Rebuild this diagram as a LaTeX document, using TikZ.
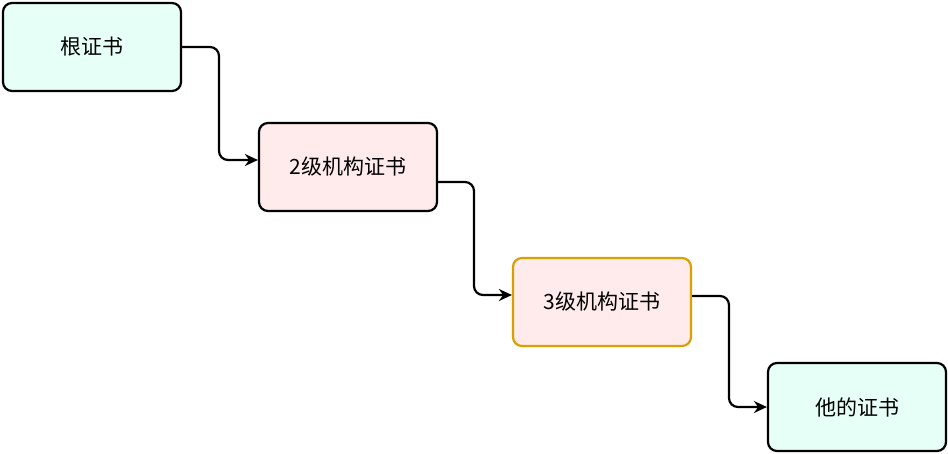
\documentclass[tikz,border=0pt]{standalone}
\usepackage{fontspec}
\newfontfamily\cjk{Noto Sans CJK SC}
\usetikzlibrary{arrows.meta}
\definecolor{teal}{HTML}{E6FFF7}
\definecolor{pink}{HTML}{FFEBEB}
\definecolor{org}{HTML}{D9A000}
\tikzset{box/.style={draw=black,line width=2.2pt,rounded corners=9pt,minimum width=178pt,minimum height=88pt,font=\cjk\fontsize{21}{24}\selectfont,inner sep=0pt},
conn/.style={line width=2.2pt,rounded corners=9pt,-{Stealth[length=13pt,width=12pt]}}}
\begin{document}
\begin{tikzpicture}[x=1pt,y=-1pt]
\useasboundingbox (0,0) rectangle (948,453);
\node[box,fill=teal] (a) at (92,47) {根证书};
\node[box,fill=pink] (b) at (348,167) {2级机构证书};
\node[box,fill=pink,draw=org] (c) at (602,302) {3级机构证书};
\node[box,fill=teal] (d) at (857,407) {他的证书};
\draw[conn] (a.east) -- (219,47) -- (219,160) -- (b.west|-0,160);
\draw[conn] (b.east|-0,182) -- (474,182) -- (474,295) -- (c.west|-0,295);
\draw[conn] (c.east|-0,296) -- (729,296) -- (729,407) -- (d.west);
\end{tikzpicture}
\end{document}
